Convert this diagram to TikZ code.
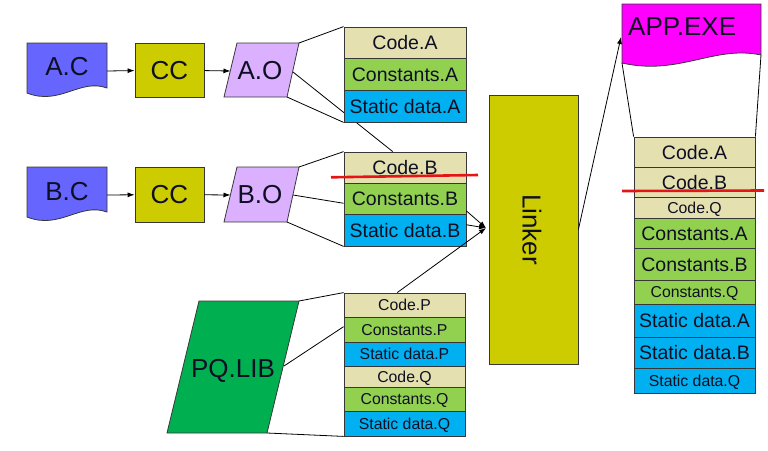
\documentclass[tikz,border=0pt]{standalone}
\usepackage{fontspec}
\setmainfont{Liberation Sans}
\usetikzlibrary{arrows.meta,calc,backgrounds}
\definecolor{codec}{RGB}{228,224,176}
\definecolor{consc}{RGB}{146,208,80}
\definecolor{statc}{RGB}{0,176,240}
\definecolor{docc}{RGB}{102,102,255}
\definecolor{ccc}{RGB}{204,204,0}
\definecolor{objc}{RGB}{218,176,255}
\definecolor{libc}{RGB}{0,176,80}
\definecolor{exec}{RGB}{255,0,255}
\definecolor{txt}{RGB}{15,15,35}
\definecolor{bord}{RGB}{55,55,55}
\definecolor{redl}{RGB}{230,20,20}
\tikzset{
  big/.style={font=\fontsize{26}{26}\selectfont, text height=18.6pt, text depth=0pt, inner sep=0pt, text=txt},
  rb/.style={draw=bord, line width=0.8pt, minimum width=122pt, inner sep=0pt,
     font=\fontsize{19.5}{19.5}\selectfont, text height=14pt, text depth=0pt, text=txt},
  srb/.style={rb, font=\fontsize{15.8}{15.8}\selectfont, text height=11.3pt},
  cf/.style={fill=codec}, kf/.style={fill=consc}, sf/.style={fill=statc},
  shp/.style={draw=bord, line width=0.8pt},
  ccbox/.style={shp, fill=ccc, inner sep=0pt},
  conn/.style={draw=black, line width=0.8pt},
  arr/.style={conn, -{Latex[length=7pt,width=5pt]}},
  redmark/.style={draw=redl, line width=2.6pt},
}
\begin{document}
\begin{tikzpicture}[x=1pt,y=-1pt]
\useasboundingbox (0,0) rectangle (768,450);

% ---------- row A ----------
\draw[shp, fill=docc] (27,43) -- (107,43) -- (107,88) .. controls (80,78) and (60,106) .. (27,93) -- cycle;
\node[big] (ac) at (67,66) {A.C};
\coordinate (acE) at (107,71);
\node[ccbox, minimum width=69pt, minimum height=54pt] (cca) at (169.5,70) {};
\node[big] at (cca.center) {CC};
\coordinate (aoTL) at (237,43); \coordinate (aoTR) at (299,43);
\coordinate (aoBR) at (287,97); \coordinate (aoBL) at (224,97);
\coordinate (aoR) at (293,72); \coordinate (aoL) at (230.5,71);
\draw[shp, fill=objc] (aoTL) -- (aoTR) -- (aoBR) -- (aoBL) -- cycle;
\node[big] (ao) at (260,70) {A.O};
\draw[arr] (acE) -- (cca);
\draw[arr] (cca) -- (aoL);

\node[rb,cf,minimum height=31pt] (ca) at (405,42.5) {Code.A};
\node[rb,kf,minimum height=32pt] (ka) at (405,74) {Constants.A};
\node[rb,sf,minimum height=32pt] (sa) at (405,106) {Static data.A};

% ---------- row B ----------
\draw[shp, fill=docc] (27,167) -- (107,167) -- (107,212) .. controls (80,202) and (60,230) .. (27,217) -- cycle;
\node[big] (bc) at (67,191) {B.C};
\coordinate (bcE) at (107,195);
\node[ccbox, minimum width=69pt, minimum height=55pt] (ccb) at (169.5,194.5) {};
\node[big] at (ccb.center) {CC};
\coordinate (boTL) at (237,167); \coordinate (boTR) at (299,167);
\coordinate (boBR) at (287,222); \coordinate (boBL) at (224,222);
\coordinate (boR) at (293,195); \coordinate (boL) at (230.5,195);
\draw[shp, fill=objc] (boTL) -- (boTR) -- (boBR) -- (boBL) -- cycle;
\node[big] (bo) at (260,194) {B.O};
\draw[arr] (bcE) -- (ccb);
\draw[arr] (ccb) -- (boL);

\node[rb,cf,minimum height=31pt] (cb) at (405,167.5) {Code.B};
\node[rb,kf,minimum height=31pt] (kb) at (405,198.5) {Constants.B};
\node[rb,sf,minimum height=32pt] (sb) at (405,230) {Static data.B};

% ---------- PQ.LIB ----------
\coordinate (pTL) at (199,301); \coordinate (pTR) at (299,301);
\coordinate (pBR) at (267,433); \coordinate (pBL) at (167,433);
\coordinate (pR) at (284,366);
\draw[shp, fill=libc] (pTL) -- (pTR) -- (pBR) -- (pBL) -- cycle;
\node[big] (pq) at (233,368) {PQ.LIB};

\node[srb,cf,minimum width=121pt,minimum height=24pt] (cp) at (404.5,305) {Code.P};
\node[srb,kf,minimum width=121pt,minimum height=25pt] (kp) at (404.5,329.5) {Constants.P};
\node[srb,sf,minimum width=121pt,minimum height=24pt] (sp) at (404.5,354) {Static data.P};
\node[srb,cf,minimum width=121pt,minimum height=21pt] (cq) at (404.5,376.5) {Code.Q};
\node[srb,kf,minimum width=121pt,minimum height=24pt] (kq) at (404.5,399) {Constants.Q};
\node[srb,sf,minimum width=121pt,minimum height=25pt] (sq) at (404.5,423.5) {Static data.Q};

% ---------- Linker ----------
\node[ccbox, minimum width=89pt, minimum height=269pt] (lk) at (533.5,229.5) {};
\node[big, rotate=-90] (lkt) at (532,229.5) {Linker};
\coordinate (dot) at (486,228);

% ---------- APP.EXE ----------
\draw[shp, fill=exec] (622,4) -- (761,4) -- (761,55) .. controls (714,45) and (679,76) .. (622,63) -- cycle;
\node[big, anchor=west] (app) at (628,26) {APP.EXE};
\coordinate (appW) at (621,37);
\coordinate (appBL) at (622,63);
\coordinate (appBR) at (761,55);

% ---------- output stack ----------
\node[rb,cf,minimum width=121pt,minimum height=30pt] (oca) at (694.5,152) {Code.A};
\node[rb,cf,minimum width=121pt,minimum height=30pt] (ocb) at (694.5,182) {Code.B};
\node[srb,cf,minimum width=121pt,minimum height=21pt] (ocq) at (694.5,207.5) {Code.Q};
\node[rb,kf,minimum width=121pt,minimum height=30pt] (oka) at (694.5,233) {Constants.A};
\node[rb,kf,minimum width=121pt,minimum height=32pt] (okb) at (694.5,264) {Constants.B};
\node[srb,kf,minimum width=121pt,minimum height=24pt] (okq) at (694.5,292) {Constants.Q};
\node[rb,sf,minimum width=121pt,minimum height=33pt] (osa) at (694.5,320.5) {Static data.A};
\node[rb,sf,minimum width=121pt,minimum height=31pt] (osb) at (694.5,352.5) {Static data.B};
\node[srb,sf,minimum width=121pt,minimum height=25pt] (osq) at (694.5,380.5) {Static data.Q};

% ---------- connectors ----------
\draw[conn] (aoTR) -- (ca.north west);
\draw[conn] (aoBR) -- (sa.south west);
\begin{pgfonlayer}{background}
\draw[conn] (aoR) -- ($(cb.north west)!0.4!(cb.north east)$);
\end{pgfonlayer}
\draw[conn] (boTR) -- (cb.north west);
\draw[conn] (boR) -- ($(kb.north west)!0.65!(kb.south west)$);
\draw[conn] (boBR) -- (sb.south west);
\draw[conn] (pTR) -- (cp.north west);
\draw[conn] (pR) -- ($(kp.north west)!0.39!(kp.south west)$);
\draw[conn] (pBR) -- (sq.south west);

\draw[arr] ($(kb.north east)!0.89!(kb.south east)$) -- (dot);
\draw[arr] ($(sb.north east)!0.34!(sb.south east)$) -- (dot);
\draw[arr] ($(cp.north west)!0.44!(cp.north east)$) -- (dot);
\draw[arr] (lk.east) -- (appW);

\draw[conn] (appBL) -- (oca.north west);
\draw[conn] (appBR) -- (oca.north east);

% ---------- red marks ----------
\coordinate (r1a) at (331,177.3); \coordinate (r1b) at (478,175);
\coordinate (r2a) at (622,191); \coordinate (r2b) at (764,190.5);
\draw[redmark] (r1a) -- (r1b);
\draw[redmark] (r2a) -- (r2b);
\end{tikzpicture}
\end{document}
